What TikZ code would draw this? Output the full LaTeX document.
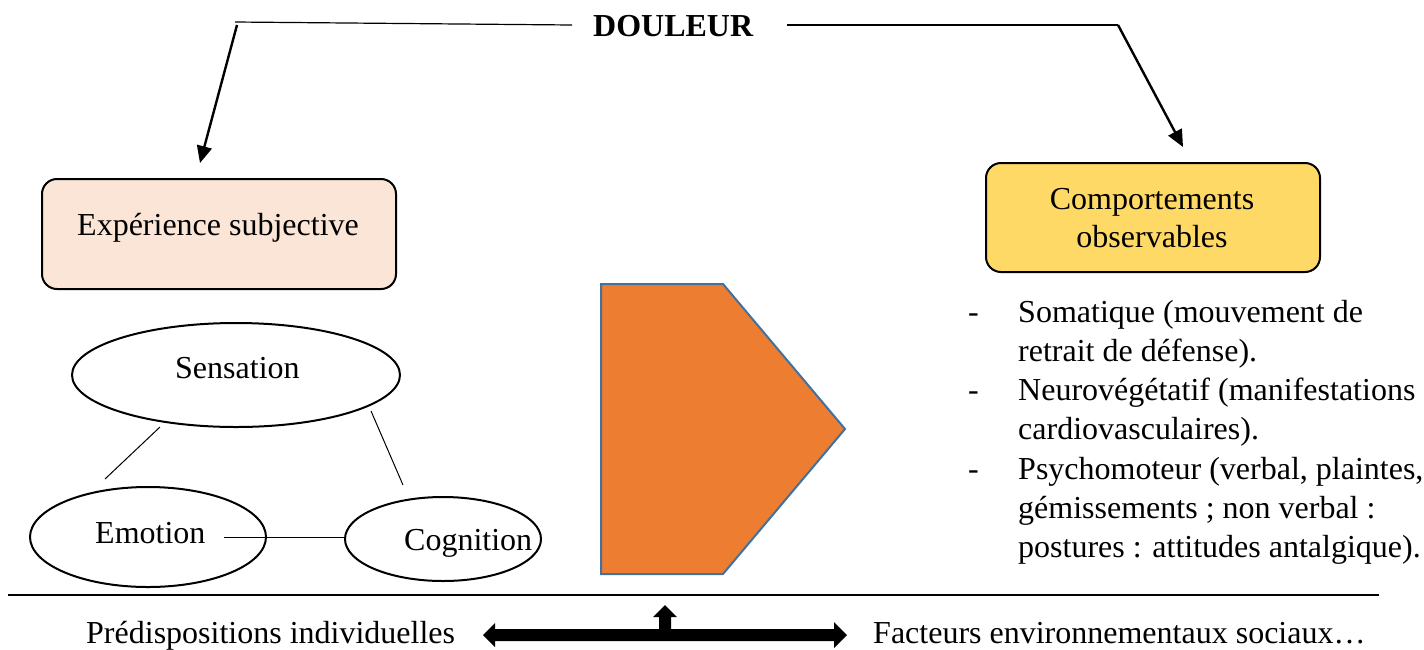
\documentclass[tikz,border=0pt]{standalone}
\usepackage{fontspec}
\setmainfont{Liberation Serif}
\usetikzlibrary{arrows.meta,shapes.geometric}
\definecolor{peach}{HTML}{FBE5D6}
\definecolor{gold}{HTML}{FFD966}
\definecolor{orng}{HTML}{ED7D31}
\definecolor{bluebd}{HTML}{41719C}
\begin{document}
\begin{tikzpicture}[x=1pt,y=-1pt,
  txt/.style={inner sep=0pt,font=\fontsize{32}{39}\selectfont},
  tb/.style={txt,anchor=base west},
  rbox/.style={draw=black,line width=2pt,rounded corners=15pt,inner sep=0pt},
  ell/.style={draw=black,line width=2pt,ellipse,inner sep=0pt},
  thin/.style={draw=black,line width=1.2pt},
  arr/.style={draw=black,line width=2.4pt,-{Triangle[length=17pt,width=15pt]}}]
\useasboundingbox (0,0) rectangle (1424,649);
% title
\node[tb,font=\fontsize{32}{39}\selectfont\bfseries] (dou) at (593,36) {DOULEUR};
\coordinate (lc) at (235,22);
\coordinate (lt) at (572,25);
\coordinate (rf) at (787,25);
\coordinate (rc) at (1118,25);
\coordinate (la) at (200,163);
\coordinate (ra) at (1183,147);
\draw[thin] (lt) -- (lc);
\draw[thin] (rf) -- (rc);
\draw[arr] (237,25) -- (la);
\draw[arr] (rc) -- (ra);
% boxes
\node[rbox,fill=peach,minimum width=354pt,minimum height=110pt] (exp) at (219,234) {};
\node[tb] (expT) at (77,235) {Expérience subjective};
\node[rbox,fill=gold,minimum width=334pt,minimum height=109pt] (comp) at (1153,217.5) {};
\node[txt,anchor=base] (compA) at (1152,209) {Comportements};
\node[txt,anchor=base] (compB) at (1152,247) {observables};
% ellipses
\node[ell,fill=white,minimum width=328pt,minimum height=104pt] (sens) at (236,375) {};
\node[ell,fill=white,minimum width=236pt,minimum height=100pt] (emo) at (148,537) {};
\node[ell,fill=white,minimum width=196pt,minimum height=84pt] (cog) at (443,539) {};
\node[tb] (sensT) at (175,378) {Sensation};
\node[tb] (emoT) at (95,543) {Emotion};
\node[tb] (cogT) at (404,550) {Cognition};
\coordinate (c1) at (160,427);
\coordinate (c2) at (105,479);
\coordinate (c3) at (371,411);
\coordinate (c4) at (403,485);
\coordinate (c5) at (224,537);
\draw[line width=1pt] (c1) -- (c2);
\draw[line width=1pt] (c3) -- (c4);
\draw[line width=1pt] (c5) -- (c5 -| cog.west);
% pentagon
\draw[fill=orng,draw=bluebd,line width=2pt] (601,284) -- (723,284) -- (845,429) -- (723,574) -- (601,574) -- cycle;
% list
\foreach \t/\k in {{Somatique (mouvement de}/0,{retrait de défense).}/1,{Neurovégétatif (manifestations}/2,{cardiovasculaires).}/3,{Psychomoteur (verbal, plaintes,}/4,{gémissements ; non verbal :}/5,{postures : attitudes antalgique).}/6}
  \node[tb] (li\k) at (1018,322+39.3*\k) {\t};
\foreach \k in {0,2,4}
  \node[tb] (da\k) at (968,322+39.3*\k) {-};
% bottom
\coordinate (bl) at (8,595);
\coordinate (br) at (1379,595);
\draw[line width=1.5pt] (bl) -- (br);
\node[tb] (pre) at (86,643) {Prédispositions individuelles};
\node[tb] (fac) at (873,643) {Facteurs environnementaux sociaux…};
\fill[black] (483,635) -- (495,623) -- (495,629) -- (659,629) -- (659,617) -- (653,617) -- (665,605) -- (677,617) -- (671,617) -- (671,629) -- (834,629) -- (834,622) -- (847,635) -- (834,648) -- (834,641) -- (495,641) -- (495,647) -- cycle;
\end{tikzpicture}
\end{document}
